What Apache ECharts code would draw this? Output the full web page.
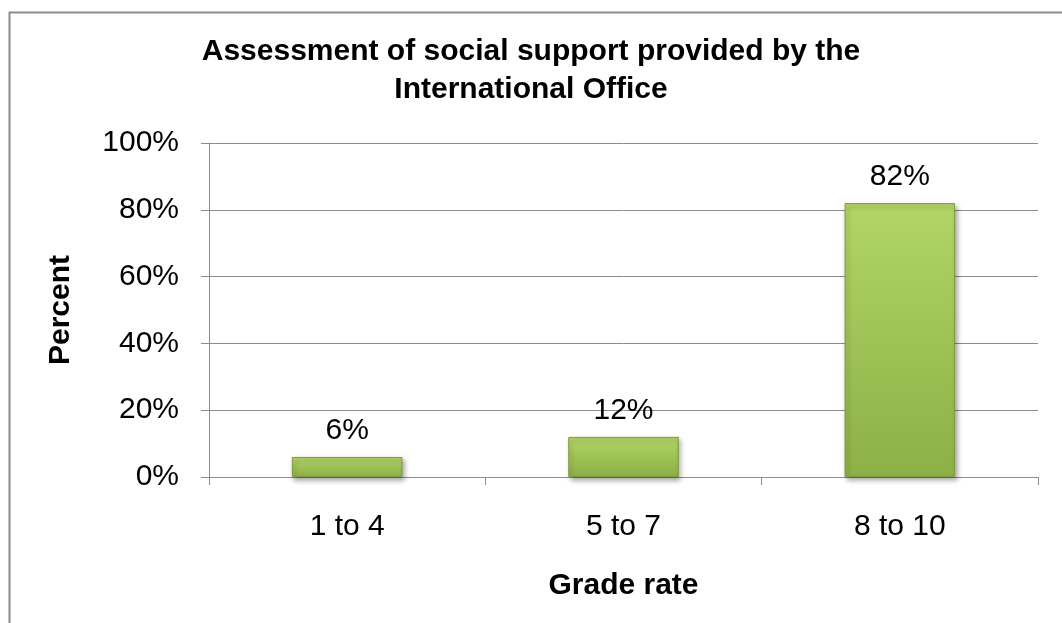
<!DOCTYPE html>
<html>
<head>
<meta charset="utf-8">
<script src="https://cdn.jsdelivr.net/npm/echarts@6/dist/echarts.min.js"></script>
<style>
  html, body { margin: 0; padding: 0; background: #ffffff; }
  #chart { width: 1062px; height: 623px; }
</style>
</head>
<body>
<div id="chart"></div>
<script>
// Grade buckets and share of respondents (percent)
var categories = ['1 to 4', '5 to 7', '8 to 10'];
var percentValues = [6, 12, 82];
var yTicks = [0, 20, 40, 60, 80, 100];

var FONT = '"Liberation Sans", Arial, sans-serif';

var chart = echarts.init(document.getElementById('chart'), null, { renderer: 'canvas' });

var barFill = new echarts.graphic.LinearGradient(0, 0, 0, 1, [
  { offset: 0, color: '#b2d566' },
  { offset: 1, color: '#8db047' }
]);

chart.setOption({
  animation: false,
  backgroundColor: '#ffffff',
  graphic: [{
    type: 'rect',
    left: 7, top: 10,
    shape: { width: 1100, height: 700 },
    style: { fill: 'none', stroke: '#8c8c8c', lineWidth: 2 },
    silent: true
  }],
  title: {
    text: 'Assessment of social support provided by the\nInternational Office',
    left: 'center',
    top: 28,
    textStyle: {
      fontFamily: FONT, fontSize: 30, fontWeight: 'bold', color: '#000000',
      lineHeight: 38
    }
  },
  grid: { left: 209, right: 24, top: 143, bottom: 146, containLabel: false },
  xAxis: {
    type: 'category',
    data: categories,
    name: 'Grade rate',
    nameLocation: 'middle',
    nameGap: 94,
    nameTextStyle: { fontFamily: FONT, fontSize: 30, fontWeight: 'bold', color: '#000000' },
    axisLine: { lineStyle: { color: '#8c8c8c', width: 1 } },
    axisTick: { show: true, length: 8, lineStyle: { color: '#8c8c8c' } },
    axisLabel: { fontFamily: FONT, fontSize: 30, color: '#000000', margin: 35 },
    splitLine: { show: false }
  },
  yAxis: {
    type: 'value',
    min: 0, max: 100, interval: 20,
    name: 'Percent',
    nameLocation: 'middle',
    nameRotate: 90,
    nameGap: 133,
    nameTextStyle: { fontFamily: FONT, fontSize: 30, fontWeight: 'bold', color: '#000000' },
    axisLine: { show: true, lineStyle: { color: '#8c8c8c', width: 1 } },
    axisTick: { show: true, length: 8, lineStyle: { color: '#8c8c8c' } },
    axisLabel: {
      fontFamily: FONT, fontSize: 30, color: '#000000', margin: 30,
      formatter: function (v) { return yTicks.indexOf(v) >= 0 ? v + '%' : ''; }
    },
    splitLine: { show: true, lineStyle: { color: '#8c8c8c', width: 1 } }
  },
  series: [{
    type: 'bar',
    data: percentValues,
    barWidth: '40%',
    itemStyle: {
      color: barFill,
      borderColor: '#7e9d3b',
      borderWidth: 1,
      shadowColor: 'rgba(0,0,0,0.35)',
      shadowBlur: 5,
      shadowOffsetX: 2,
      shadowOffsetY: 3
    },
    label: {
      show: true,
      position: 'top',
      distance: 11,
      fontFamily: FONT, fontSize: 30, color: '#000000',
      formatter: function (p) { return p.value + '%'; }
    }
  }]
});
</script>
</body>
</html>
